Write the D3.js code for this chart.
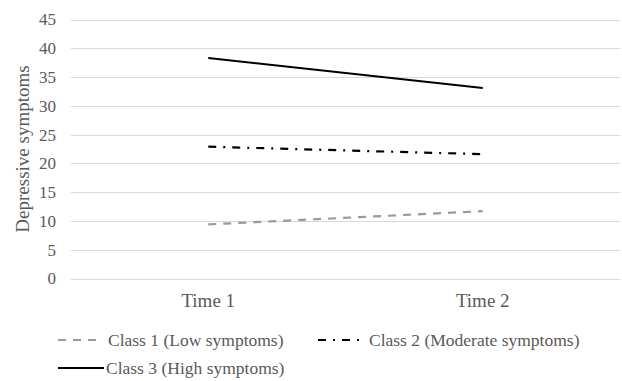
<!DOCTYPE html>
<html><head><meta charset="utf-8">
<script src="https://cdn.jsdelivr.net/npm/d3@7"></script>
<style>body{margin:0;background:#fff}svg{display:block}text{font-family:"Liberation Serif","Times New Roman",serif;fill:#595959}</style>
</head><body>
<svg id="c" width="622" height="381"></svg>
<script>
const categories = ["Time 1", "Time 2"];
const class1 = [9.4, 11.7];
const class2 = [22.9, 21.6];
const class3 = [38.3, 33.1];
const yTicks = [0, 5, 10, 15, 20, 25, 30, 35, 40, 45];
const seriesNames = ["Class 1 (Low symptoms)", "Class 2 (Moderate symptoms)", "Class 3 (High symptoms)"];
const yTitle = "Depressive symptoms";

const series = [
  {name: seriesNames[0], values: class1, color: "#9a9a9a", width: 2.2, dash: "8,7"},
  {name: seriesNames[1], values: class2, color: "#000", width: 2.2, dash: "8,7,2,7"},
  {name: seriesNames[2], values: class3, color: "#000", width: 2, dash: null}
];

const svg = d3.select("#c");
const x = d3.scaleBand().domain(categories).range([71, 620]);
const y = d3.scaleLinear().domain([0, 45]).range([278.5, 19.5]);

// gridlines
svg.append("g").selectAll("line").data(yTicks).join("line")
  .attr("x1", 71).attr("x2", 620)
  .attr("y1", d => Math.round(y(d)) + 0.5).attr("y2", d => Math.round(y(d)) + 0.5)
  .attr("stroke", "#d9d9d9").attr("stroke-width", 1.2);

// y tick labels
svg.append("g").selectAll("text").data(yTicks).join("text")
  .attr("x", 56).attr("y", d => y(d)).attr("dy", "0.35em")
  .attr("text-anchor", "end").attr("font-size", 17).text(d => d);

// x labels
svg.append("g").selectAll("text").data(categories).join("text")
  .attr("x", d => x(d) + x.bandwidth() / 2).attr("y", 307)
  .attr("text-anchor", "middle").attr("font-size", 19).text(d => d);

// y title
svg.append("text").attr("transform", `translate(29,${(y(0) + y(45)) / 2}) rotate(-90)`)
  .attr("text-anchor", "middle").attr("font-size", 19).text(yTitle);

// lines
const line = d3.line().x((d, i) => x(categories[i]) + x.bandwidth() / 2).y(d => y(d));
svg.append("g").selectAll("path").data(series).join("path")
  .attr("d", d => line(d.values)).attr("fill", "none")
  .attr("stroke", d => d.color).attr("stroke-width", d => d.width)
  .attr("stroke-dasharray", d => d.dash);

// legend
const leg = [
  {s: series[0], x1: 58, x2: 98, tx: 108, y: 340},
  {s: series[1], x1: 318, x2: 362, tx: 369, y: 340},
  {s: series[2], x1: 58, x2: 104, tx: 106, y: 368}
];
const lg = svg.append("g").selectAll("g").data(leg).join("g");
lg.append("line").attr("x1", d => d.x1).attr("x2", d => d.x2).attr("y1", d => d.y).attr("y2", d => d.y)
  .attr("stroke", d => d.s.color).attr("stroke-width", d => d.s.width).attr("stroke-dasharray", d => d.s.dash);
lg.append("text").attr("x", d => d.tx).attr("y", d => d.y).attr("dy", "0.35em")
  .attr("font-size", 17.5).text(d => d.s.name);
</script>
</body></html>
